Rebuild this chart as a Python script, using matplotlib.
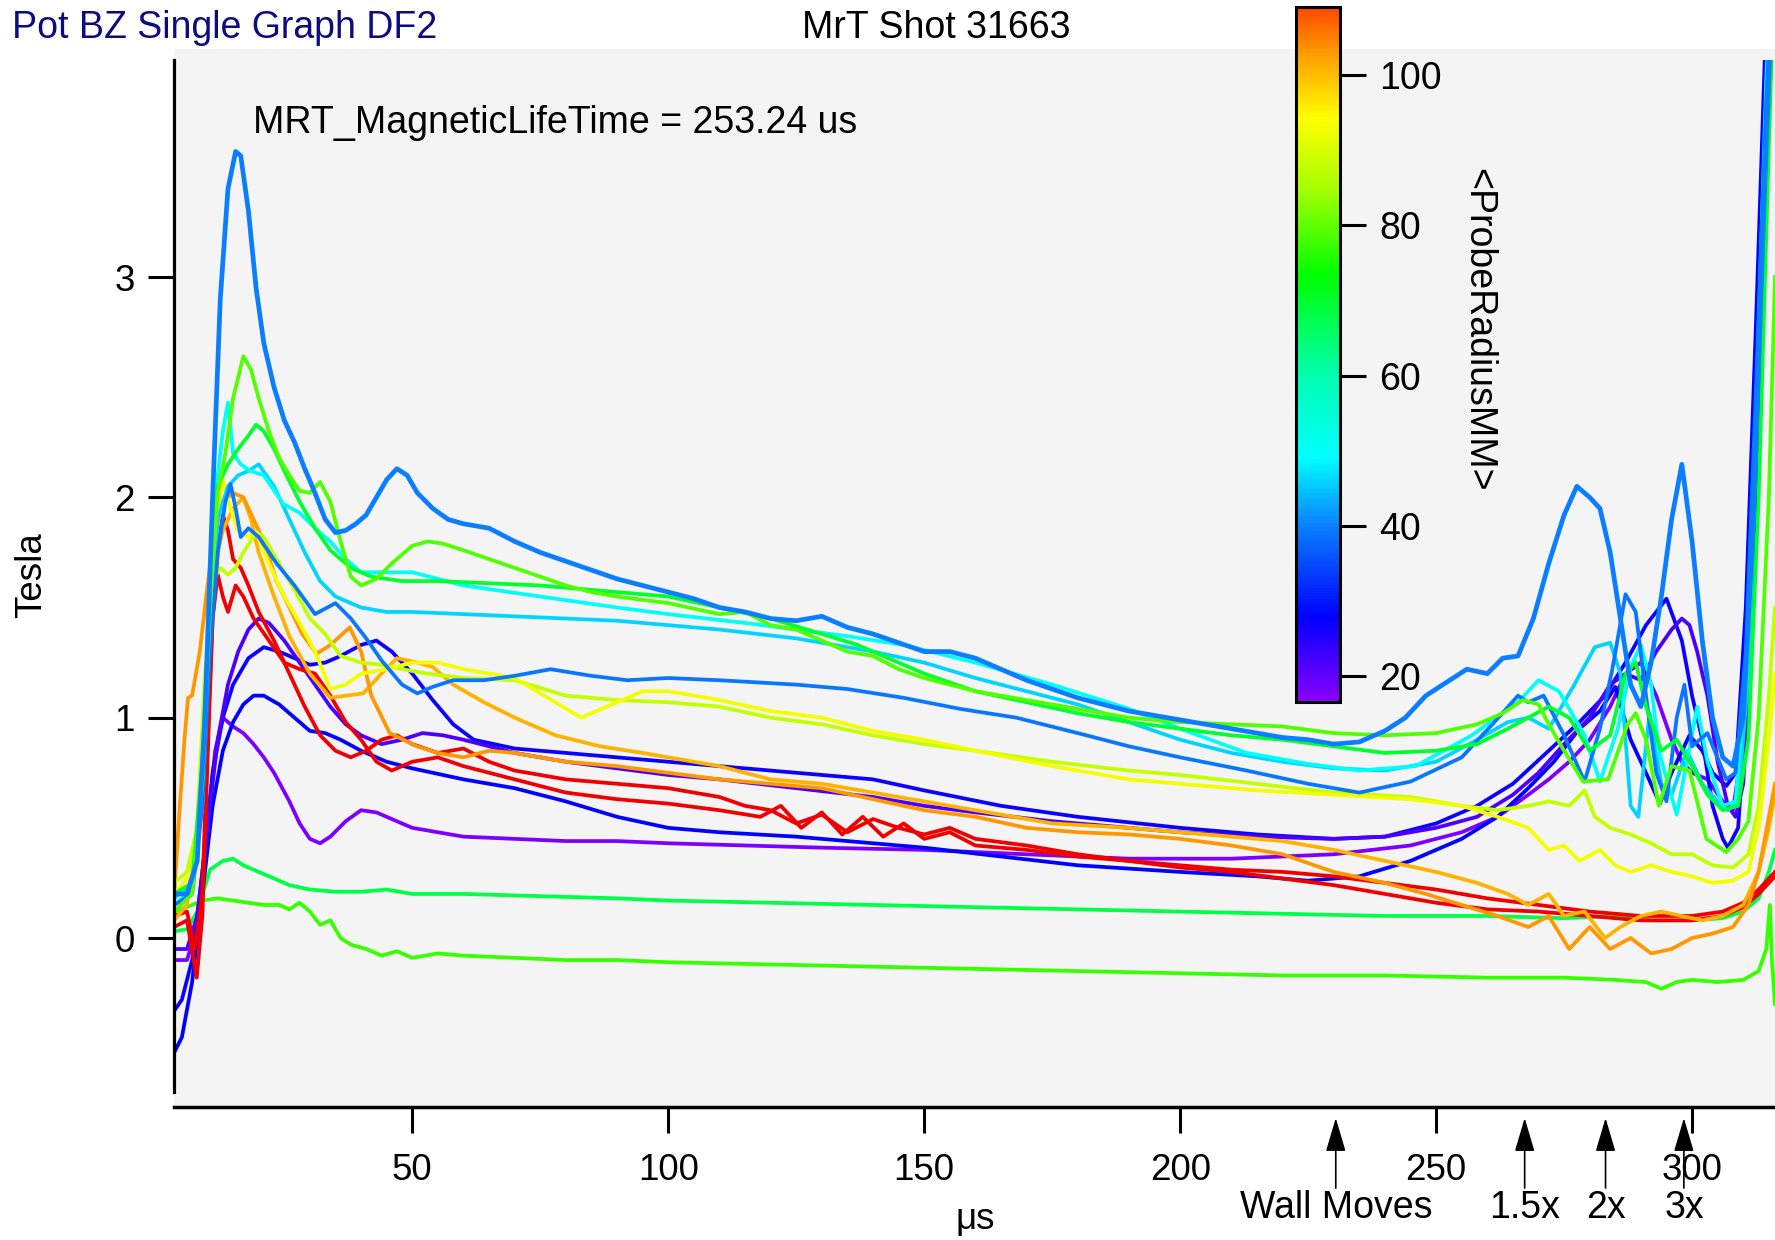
import numpy as np
import matplotlib
matplotlib.use("Agg")
import matplotlib.pyplot as plt
from matplotlib.colors import LinearSegmentedColormap, Normalize
from matplotlib.cm import ScalarMappable
from matplotlib.patches import Rectangle

plt.rcParams['font.family'] = ['Liberation Sans', 'DejaVu Sans']

# --- traces: (time us, field T) ---
blue40 = [(3.5, 0.2), (6, 0.2), (8, 0.35), (9.5, 1.0), (11, 2.0), (12.5, 2.9), (14, 3.4), (15.5, 3.57),
          (16.5, 3.55), (18, 3.3), (19.5, 2.95), (21, 2.7), (23, 2.5), (25, 2.35), (27, 2.25), (29, 2.13),
          (31, 2.02), (33, 1.9), (35, 1.84), (37, 1.85), (39, 1.88), (41, 1.92), (43, 2.0), (45, 2.08),
          (47, 2.13), (49, 2.1), (51, 2.02), (54, 1.95), (57, 1.9), (60, 1.88), (65, 1.86), (70, 1.8),
          (75, 1.75), (80, 1.71), (85, 1.67), (90, 1.63), (95, 1.6), (100, 1.57), (105, 1.54), (110, 1.5),
          (115, 1.48), (120, 1.45), (125, 1.44), (130, 1.46), (135, 1.41), (140, 1.38), (145, 1.34),
          (150, 1.3), (155, 1.3), (160, 1.27), (165, 1.22), (170, 1.17), (175, 1.13), (180, 1.09),
          (185, 1.06), (190, 1.03), (195, 1.01), (200, 0.99), (205, 0.97), (210, 0.95), (215, 0.93),
          (220, 0.91), (225, 0.9), (230, 0.88), (235, 0.89), (240, 0.94), (244, 1.0), (248, 1.1),
          (252, 1.16), (256, 1.22), (260, 1.2), (263, 1.27), (266, 1.28), (269, 1.45), (272, 1.7),
          (275, 1.92), (277.5, 2.05), (280, 2.0), (282, 1.95), (284, 1.75), (286, 1.45), (288, 1.15),
          (290, 1.05), (292, 1.25), (294, 1.55), (296, 1.9), (298, 2.15), (300, 1.8), (302, 1.35),
          (304, 1.0), (306, 0.82), (308, 0.78), (310, 1.0), (312, 1.9), (314, 3.3), (316, 4.5)]

blue38 = [(3.5, 0.15), (7, 0.2), (9, 0.6), (10.5, 1.3), (12, 1.75), (13.5, 1.98), (14.5, 2.06), (15.5, 1.95),
          (16.5, 1.82), (18, 1.86), (20, 1.82), (23.5, 1.7), (27, 1.6), (31, 1.47), (35, 1.52), (38, 1.45),
          (41, 1.36), (44, 1.26), (48, 1.15), (51, 1.11), (54, 1.14), (58, 1.17), (64, 1.17), (70, 1.19),
          (77, 1.22), (85, 1.19), (92, 1.17), (100, 1.18), (110, 1.17), (125, 1.15), (135, 1.13),
          (146, 1.09), (157, 1.04), (168, 1.0), (180, 0.93), (190, 0.87), (200, 0.82), (213, 0.76),
          (225, 0.7), (235, 0.66), (245, 0.71), (255, 0.82), (261, 0.97), (266, 1.1), (268, 1.07),
          (271, 1.1), (275, 0.92), (279, 0.71), (282, 0.95), (284.5, 1.23), (287, 1.56), (289, 1.48),
          (291, 1.1), (293, 0.75), (295, 0.62), (297, 1.0), (298.5, 1.15), (300, 0.87), (303, 0.93),
          (306.7, 0.72), (308.5, 0.75), (310.5, 1.3), (312.5, 2.5), (314.5, 3.8), (316, 4.5)]

green78 = [(3.5, 0.12), (7, 0.2), (9, 0.7), (10.5, 1.5), (12, 2.02), (13.5, 2.2), (15, 2.45), (17, 2.64),
           (18.5, 2.58), (20, 2.45), (22, 2.3), (24, 2.18), (26, 2.1), (28, 2.03), (30, 2.02), (32, 2.07),
           (34, 1.98), (36, 1.8), (38, 1.64), (40, 1.6), (43, 1.63), (46, 1.7), (50, 1.78), (53, 1.8),
           (56, 1.79), (60, 1.76), (65, 1.72), (70, 1.68), (75, 1.64), (80, 1.6), (85, 1.57), (90, 1.55),
           (100, 1.52), (110, 1.47), (115, 1.48), (120, 1.42), (125, 1.4), (130, 1.35), (135, 1.3),
           (140, 1.28), (145, 1.22), (150, 1.18), (155, 1.15), (160, 1.12), (170, 1.08), (180, 1.04),
           (190, 1.0), (200, 0.98), (210, 0.97), (220, 0.96), (230, 0.93), (240, 0.92), (250, 0.93),
           (258, 0.97), (263, 1.02), (267, 1.08), (270, 1.06), (272, 0.97), (275, 0.85), (278.7, 0.71),
           (283.6, 0.72), (287.4, 0.97), (289, 1.02), (291, 0.9), (293.5, 0.6), (296, 0.78), (299.5, 0.76),
           (302.8, 0.45), (306.7, 0.39), (309, 0.45), (311, 0.53), (313, 1.0), (315, 2.0), (316.2, 3.0)]

green70 = [(3.5, 0.2), (7, 0.25), (9, 0.8), (10.5, 1.6), (12, 2.05), (14, 2.15), (16, 2.22), (18, 2.28),
           (19.5, 2.33), (21, 2.3), (23, 2.22), (25, 2.12), (28, 1.98), (31, 1.86), (34, 1.76), (38, 1.68),
           (42, 1.64), (48, 1.62), (55, 1.62), (65, 1.61), (75, 1.6), (85, 1.58), (95, 1.56), (100, 1.55),
           (110, 1.5), (120, 1.45), (130, 1.38), (137, 1.33), (140, 1.3), (150, 1.2), (160, 1.12),
           (170, 1.07), (180, 1.02), (190, 0.98), (200, 0.95), (210, 0.92), (220, 0.9), (230, 0.87),
           (240, 0.84), (250, 0.85), (258, 0.88), (264, 0.95), (268, 1.0), (272, 1.05), (276, 1.0),
           (280, 0.85), (284, 0.92), (287, 1.2), (289, 1.25), (291, 1.05), (294, 0.85), (297, 0.9),
           (300, 0.78), (303, 0.65), (306, 0.58), (309, 0.6), (311, 0.9), (313, 2.0), (315, 3.6), (316.2, 4.5)]

cyan50 = [(3.5, 0.15), (7, 0.22), (9, 0.7), (10.5, 1.6), (12, 2.1), (13, 2.3), (14, 2.43), (15, 2.2),
          (16.5, 2.15), (18.3, 2.12), (21, 2.1), (24.8, 1.97), (28, 1.93), (31, 1.86), (34, 1.8), (37, 1.72),
          (40, 1.66), (45, 1.66), (50, 1.66), (60, 1.6), (75, 1.55), (90, 1.5), (100, 1.47), (115, 1.43),
          (125, 1.4), (135, 1.37), (146, 1.33), (160, 1.25), (175, 1.15), (190, 1.04), (200, 0.95),
          (213, 0.84), (225, 0.79), (235, 0.76), (246, 0.78), (257, 0.92), (266, 1.07), (270, 1.17),
          (274, 1.12), (279, 0.92), (282, 0.71), (285.5, 0.95), (288, 1.23), (290, 1.33), (292, 1.15),
          (293.5, 0.85), (297, 0.56), (299, 0.8), (301, 1.05), (303, 0.8), (306, 0.6), (308.5, 0.62),
          (310.5, 1.2), (312.5, 2.4), (314.5, 3.9), (316, 4.6)]

cyan46 = [(3.5, 0.18), (7, 0.25), (9, 0.6), (10.5, 1.4), (12, 1.9), (14, 2.05), (16, 2.1), (18, 2.12),
          (20, 2.15), (23, 2.05), (26, 1.9), (29, 1.75), (32, 1.62), (35, 1.55), (40, 1.5), (45, 1.48),
          (50, 1.48), (60, 1.47), (70, 1.46), (80, 1.45), (90, 1.44), (100, 1.42), (110, 1.4), (125, 1.36),
          (140, 1.3), (150, 1.25), (160, 1.18), (170, 1.12), (180, 1.06), (190, 0.98), (200, 0.9),
          (210, 0.84), (220, 0.8), (230, 0.77), (240, 0.76), (250, 0.8), (258, 0.9), (264, 0.98),
          (268, 1.0), (272, 0.95), (277, 1.15), (281, 1.32), (284, 1.34), (286, 1.2), (287, 0.9),
          (288, 0.6), (289.5, 0.55), (291.7, 1.02), (294, 0.7), (296, 0.65), (299, 0.85), (302, 0.7),
          (305, 0.62), (307, 0.58), (309, 0.62), (311, 1.2), (313, 2.6), (315, 4.0), (316.2, 4.6)]

yellow93 = [(3.5, 0.2), (7, 0.3), (9, 0.7), (10.5, 1.5), (12, 1.95), (13, 2.08), (14.5, 1.95), (16, 1.85),
            (18, 1.82), (19.6, 1.84), (22, 1.7), (25, 1.55), (28, 1.43), (31, 1.3), (34, 1.13), (37, 1.15),
            (40, 1.2), (45, 1.22), (50, 1.25), (55, 1.25), (60, 1.22), (70, 1.18), (83, 1.0), (88, 1.05),
            (95, 1.12), (100, 1.12), (110, 1.08), (120, 1.03), (130, 1.0), (140, 0.94), (150, 0.9),
            (160, 0.85), (175, 0.78), (190, 0.72), (200, 0.7), (215, 0.67), (230, 0.65), (245, 0.63),
            (255, 0.6), (262, 0.55), (268, 0.5), (272, 0.4), (275, 0.42), (278, 0.35), (282, 0.4),
            (285, 0.33), (288, 0.3), (292, 0.33), (296, 0.3), (300, 0.28), (304, 0.25), (308, 0.26),
            (311, 0.3), (313, 0.5), (315, 0.9), (316.2, 1.2)]

yellow88 = [(3.5, 0.25), (6, 0.3), (8, 0.5), (9.5, 1.2), (11, 1.62), (12.5, 1.68), (14, 1.65), (15.5, 1.68),
            (17, 1.75), (19.5, 1.84), (21, 1.82), (24, 1.7), (27, 1.58), (30, 1.45), (33, 1.38), (36, 1.28),
            (40, 1.25), (44, 1.24), (48, 1.22), (53, 1.2), (60, 1.18), (70, 1.17), (80, 1.1), (90, 1.08),
            (100, 1.07), (110, 1.05), (120, 1.0), (130, 0.97), (140, 0.92), (150, 0.88), (160, 0.85),
            (175, 0.8), (190, 0.76), (200, 0.74), (215, 0.7), (230, 0.66), (245, 0.64), (255, 0.6),
            (262, 0.58), (268, 0.6), (272, 0.62), (276, 0.6), (279, 0.67), (281, 0.55), (284, 0.5),
            (288, 0.47), (292, 0.43), (296, 0.38), (300, 0.38), (304, 0.33), (308, 0.32), (311, 0.38),
            (313, 0.6), (315, 1.1), (316.2, 1.5)]

orange103 = [(3.5, 0.2), (4.6, 0.6), (5.5, 0.9), (6.2, 1.09), (7, 1.1), (8.5, 1.3), (10, 1.6), (11.5, 1.85),
             (13, 1.98), (15, 2.02), (17, 2.0), (19, 1.9), (21, 1.8), (23.5, 1.62), (26, 1.5), (28.5, 1.38),
             (31.3, 1.29), (34, 1.33), (37.8, 1.41), (40, 1.3), (42, 1.1), (45.6, 0.93), (50.9, 0.87),
             (55, 0.84), (60, 0.82), (65, 0.85), (70, 0.84), (75, 0.82), (80, 0.8), (90, 0.78), (100, 0.75),
             (110, 0.72), (120, 0.7), (130, 0.68), (140, 0.63), (150, 0.58), (160, 0.55), (170, 0.5),
             (180, 0.48), (190, 0.47), (200, 0.45), (210, 0.42), (220, 0.38), (230, 0.3), (240, 0.25),
             (248, 0.2), (255, 0.15), (262, 0.1), (268, 0.05), (272, 0.1), (276, -0.05), (280, 0.05),
             (284, -0.05), (288, 0.0), (292, -0.07), (296, -0.05), (300, 0.0), (304, 0.02), (308, 0.05),
             (311, 0.15), (313, 0.3), (315, 0.55), (316.2, 0.7)]

orange101 = [(3.5, 0.08), (6, 0.15), (8, 0.5), (10, 1.3), (11.5, 1.7), (13, 1.85), (15, 1.95), (17, 2.0),
             (18.5, 1.9), (20, 1.75), (23, 1.55), (26, 1.37), (30, 1.2), (34, 1.09), (37, 1.1), (40.4, 1.11),
             (44, 1.2), (47, 1.27), (51, 1.25), (54, 1.23), (58, 1.15), (64, 1.07), (70, 1.0), (78, 0.92),
             (86.7, 0.87), (95, 0.84), (100, 0.82), (110, 0.78), (120, 0.72), (130, 0.7), (140, 0.66),
             (150, 0.62), (160, 0.58), (175, 0.52), (190, 0.5), (200, 0.48), (210, 0.46), (220, 0.44),
             (230, 0.4), (240, 0.35), (250, 0.3), (258, 0.25), (264, 0.2), (268, 0.15), (272, 0.2),
             (275, 0.1), (279, 0.12), (283, 0.0), (286, 0.05), (290, 0.1), (294, 0.12), (298, 0.1),
             (302, 0.08), (306, 0.1), (310, 0.15), (313, 0.3), (315, 0.5), (316.2, 0.65)]

red_a = [(3.5, 0.05), (6, 0.08), (7.9, -0.18), (9, 0.1), (10, 0.8), (11, 1.45), (12, 1.75), (13, 1.92),
         (14, 1.85), (15, 1.72), (16.5, 1.68), (18, 1.6), (20, 1.48), (23, 1.35), (26, 1.2), (29, 1.05),
         (32, 0.92), (35, 0.85), (38, 0.82), (41, 0.85), (44, 0.9), (47, 0.92), (50, 0.88), (55, 0.84),
         (60, 0.86), (65, 0.8), (70, 0.76), (75, 0.74), (80, 0.72), (90, 0.7), (100, 0.68), (110, 0.64),
         (115, 0.6), (120, 0.58), (125, 0.52), (130, 0.56), (135, 0.48), (140, 0.54), (145, 0.5),
         (150, 0.47), (155, 0.5), (160, 0.45), (170, 0.42), (180, 0.38), (190, 0.35), (200, 0.32),
         (210, 0.3), (220, 0.27), (230, 0.24), (240, 0.2), (250, 0.16), (260, 0.13), (270, 0.12),
         (280, 0.1), (290, 0.08), (300, 0.08), (306, 0.1), (310, 0.14), (313, 0.2), (316.2, 0.28)]

red_b = [(3.5, 0.1), (6, 0.12), (7.5, -0.05), (9, 0.2), (10, 0.9), (11, 1.45), (12, 1.65), (13, 1.55),
         (14, 1.48), (15.5, 1.6), (17, 1.55), (19, 1.45), (22, 1.35), (25, 1.25), (28, 1.22), (31, 1.2),
         (34, 1.1), (37, 0.98), (40, 0.9), (43, 0.8), (46, 0.76), (50, 0.8), (55, 0.82), (60, 0.78),
         (70, 0.72), (80, 0.66), (90, 0.63), (100, 0.61), (110, 0.58), (118, 0.55), (122, 0.6), (126, 0.5),
         (130, 0.57), (134, 0.47), (138, 0.55), (142, 0.46), (146, 0.52), (150, 0.45), (155, 0.48),
         (160, 0.42), (170, 0.4), (180, 0.37), (190, 0.35), (200, 0.33), (210, 0.31), (220, 0.3),
         (230, 0.28), (240, 0.25), (250, 0.22), (260, 0.18), (270, 0.15), (280, 0.12), (290, 0.1),
         (300, 0.1), (306, 0.12), (310, 0.16), (313, 0.22), (316.2, 0.3)]

purple22 = [(3.5, -0.05), (6, -0.05), (8, 0.1), (10, 0.5), (12, 0.9), (14, 1.15), (16, 1.3), (18, 1.4),
            (20, 1.45), (22, 1.43), (25, 1.35), (28, 1.25), (31, 1.15), (34, 1.05), (37, 0.97), (40, 0.92),
            (44, 0.88), (48, 0.9), (52, 0.93), (56, 0.92), (60, 0.9), (70, 0.84), (80, 0.8), (90, 0.77),
            (100, 0.74), (110, 0.72), (125, 0.68), (140, 0.64), (150, 0.6), (160, 0.57), (175, 0.53),
            (190, 0.5), (200, 0.48), (215, 0.46), (230, 0.45), (240, 0.46), (250, 0.5), (258, 0.55),
            (265, 0.65), (270, 0.75), (275, 0.88), (280, 1.0), (284, 1.15), (287, 1.2), (290, 1.17),
            (293, 1.3), (296, 1.4), (298, 1.45), (299.5, 1.42), (301, 1.3), (303, 1.1), (305, 0.8),
            (307, 0.6), (308.5, 0.55), (310, 0.7), (312, 1.6), (314, 3.0), (316, 4.5)]

purple18 = [(3.5, -0.1), (6, -0.1), (8, 0.05), (10, 0.5), (11.5, 0.85), (13, 1.0), (15, 0.96), (17, 0.93),
            (19, 0.88), (21, 0.82), (23, 0.75), (26, 0.62), (28, 0.52), (30, 0.45), (32, 0.43), (34, 0.46),
            (37, 0.53), (40, 0.58), (43, 0.57), (46, 0.54), (50, 0.5), (55, 0.48), (60, 0.46), (70, 0.45),
            (80, 0.44), (90, 0.44), (100, 0.43), (115, 0.42), (130, 0.41), (150, 0.4), (170, 0.38),
            (190, 0.36), (210, 0.36), (230, 0.38), (245, 0.42), (255, 0.48), (262, 0.55), (268, 0.65),
            (272, 0.72), (276, 0.8), (280, 0.9), (284, 1.05), (287, 1.2), (290, 1.25), (293, 1.1),
            (296, 0.9), (298, 0.8), (300, 0.75), (303, 0.72), (306, 0.62), (308, 0.58), (310, 0.9),
            (312, 2.0), (314, 3.5), (316, 4.5)]

navy28 = [(3.5, -0.52), (5, -0.45), (7, -0.2), (9, 0.2), (11, 0.6), (13, 0.85), (15, 0.98), (17, 1.06),
          (19, 1.1), (21, 1.1), (24, 1.06), (27, 1.0), (30, 0.94), (33, 0.93), (36, 0.9), (40, 0.85),
          (45, 0.8), (50, 0.77), (60, 0.72), (70, 0.68), (80, 0.62), (90, 0.55), (100, 0.5), (110, 0.48),
          (125, 0.46), (140, 0.43), (150, 0.41), (165, 0.37), (180, 0.33), (200, 0.3), (215, 0.28),
          (225, 0.26), (235, 0.28), (245, 0.35), (255, 0.45), (262, 0.55), (268, 0.68), (273, 0.8),
          (278, 0.95), (282, 1.03), (285, 1.14), (288, 0.9), (291, 0.75), (293.7, 0.61), (296, 0.75),
          (299.5, 0.92), (302, 0.85), (304, 0.75), (306.7, 0.69), (308.5, 0.75), (310.5, 1.5),
          (312.5, 2.8), (314.5, 4.2)]

navy26 = [(3.5, -0.33), (5, -0.28), (7, -0.1), (9, 0.3), (11, 0.75), (13, 1.0), (15, 1.15), (18, 1.27),
          (21, 1.32), (24, 1.3), (27, 1.27), (30, 1.24), (33, 1.25), (36, 1.28), (40, 1.33), (43, 1.35),
          (46, 1.3), (50, 1.2), (54, 1.08), (58, 0.97), (62, 0.9), (70, 0.86), (80, 0.84), (90, 0.82),
          (100, 0.8), (110, 0.78), (125, 0.75), (140, 0.72), (150, 0.67), (165, 0.6), (180, 0.55),
          (200, 0.5), (215, 0.47), (230, 0.45), (240, 0.46), (250, 0.52), (258, 0.6), (265, 0.7),
          (272, 0.85), (278, 0.98), (283, 1.1), (287, 1.25), (291, 1.42), (295, 1.54), (298, 1.35),
          (300, 1.1), (302, 0.9), (304, 0.6), (306, 0.45), (307, 0.41), (309, 0.5), (311, 1.2),
          (313, 2.6), (315, 4.0), (316.2, 4.6)]

green_noisy = [(3.5, 0.03), (6, 0.04), (8, 0.12), (10.5, 0.31), (13, 0.35), (15, 0.36), (17, 0.33), (20, 0.3),
               (23, 0.27), (26, 0.24), (30, 0.22), (35, 0.21), (40, 0.21), (45, 0.22), (50, 0.2), (60, 0.2),
               (75, 0.19), (90, 0.18), (100, 0.17), (120, 0.16), (140, 0.15), (160, 0.14), (180, 0.13),
               (200, 0.12), (220, 0.11), (240, 0.1), (260, 0.1), (275, 0.09), (285, 0.1), (292, 0.08),
               (300, 0.08), (306, 0.09), (310, 0.12), (313, 0.18), (315, 0.3), (316.2, 0.4)]

green_low = [(3.5, 0.12), (6, 0.14), (9, 0.17), (12, 0.18), (15, 0.17), (18, 0.16), (21, 0.15), (24, 0.15),
             (26, 0.13), (28, 0.16), (30, 0.12), (32, 0.06), (34, 0.08), (36, 0.0), (38, -0.03), (41, -0.05),
             (44, -0.08), (47, -0.06), (50, -0.09), (55, -0.07), (60, -0.08), (70, -0.09), (80, -0.1),
             (90, -0.1), (100, -0.11), (120, -0.12), (140, -0.13), (160, -0.14), (180, -0.15), (200, -0.16),
             (220, -0.17), (240, -0.17), (260, -0.18), (275, -0.18), (285, -0.19), (291, -0.2), (294, -0.23),
             (297, -0.2), (300, -0.19), (305, -0.2), (310, -0.19), (313, -0.15), (314.5, -0.05),
             (315.2, 0.15), (315.6, -0.1), (316.2, -0.3)]

trace_names = ["green_low", "green_noisy", "purple18", "navy28", "navy26", "purple22", "red_a", "red_b",
               "orange101", "orange103", "yellow88", "yellow93", "cyan46", "cyan50", "blue38",
               "green70", "green78", "blue40"]
trace_radius = [77, 68, 18, 28, 27, 22, 112, 112, 101, 103, 88, 93, 46, 50, 39, 70, 79, 40]

arrow_times = [230.4, 267.3, 283.1, 298.4]
arrow_labels = ["Wall Moves", "1.5x", "2x", "3x"]

W, H = 1775, 1240
fig = plt.figure(figsize=(W / 100, H / 100), dpi=100)

# colour table like the Igor rainbow used in the plot
vmin, vmax = 16.6, 109.0
stops = [(16.6, '#8a00ff'), (27.7, '#0000ff'), (40, '#0a80ff'), (49, '#00ffff'), (60, '#00ffb0'),
         (73.4, '#00ff00'), (85, '#a8ff00'), (94.3, '#ffff00'), (102.6, '#ffa000'), (109, '#ff4a00')]
cmap = LinearSegmentedColormap.from_list('igor', [((v - vmin) / (vmax - vmin), c) for v, c in stops])
cmap.set_over('#f00000')
norm = Normalize(vmin, vmax)

bg = '#f4f4f4'
fig.patches.append(Rectangle((174 / W, 1 - 60 / H), 1601 / W, 11 / H, transform=fig.transFigure,
                             facecolor=bg, edgecolor='none', zorder=-5))
ax = fig.add_axes([174 / W, 133 / H, 1601 / W, 1047 / H])
ax.set_facecolor(bg)

fs = 27
for name, r in zip(trace_names, trace_radius):
    pts = np.array(globals()[name])
    lw = 3.4 if name == "blue40" else 2.7
    ax.plot(pts[:, 0], pts[:, 1], color=cmap(norm(r)), lw=lw, solid_joinstyle='round')

ax.set_xlim(3.46, 316.2)
ax.set_ylim(-0.767, 3.985)
ax.set_xticks([50, 100, 150, 200, 250, 300])
ax.set_yticks([0, 1, 2, 3])
for s in ['top', 'right']:
    ax.spines[s].set_visible(False)
ax.spines['left'].set_bounds(-0.699, 3.985)
ax.spines['left'].set_linewidth(2.3)
ax.spines['bottom'].set_linewidth(2.5)
ax.tick_params(axis='both', direction='out', length=19, width=2.2, labelsize=fs - 0.5)
ax.tick_params(axis='x', pad=14)
ax.tick_params(axis='y', pad=9)

fig.text(975 / W, 1 - 1220 / H, 'μs', ha='center', va='center', fontsize=fs - 0.5)
fig.text(32 / W, 1 - 575 / H, 'Tesla', ha='center', va='center', rotation=90, fontsize=fs - 0.5)

fig.text(12 / W, 1 - 28 / H, 'Pot BZ Single Graph DF2', ha='left', va='center', fontsize=fs, color='#0c0c80')
fig.text(936 / W, 1 - 28 / H, 'MrT Shot 31663', ha='center', va='center', fontsize=fs)
fig.text(253 / W, 1 - 123 / H, 'MRT_MagneticLifeTime = 253.24 us', ha='left', va='center', fontsize=fs)

# arrows under the time axis
xt = ax.get_xaxis_transform()
for t, lab in zip(arrow_times, arrow_labels):
    ax.annotate('', xy=(t, -0.0105), xytext=(t, -0.0774), xycoords=xt, textcoords=xt,
                arrowprops=dict(arrowstyle='-|>,head_length=2.1,head_width=0.62', mutation_scale=10,
                                lw=1.2, color='black', shrinkA=0, shrinkB=0),
                annotation_clip=False)
    ax.text(t, -0.0965, lab, transform=xt, ha='center', va='center', fontsize=fs)

# colour scale
cax = fig.add_axes([1296 / W, 1 - 702 / H, 44 / W, 695 / H])
cb = fig.colorbar(ScalarMappable(norm=norm, cmap=cmap), cax=cax)
cb.set_ticks([20, 40, 60, 80, 100])
cb.outline.set_linewidth(2.2)
cax.tick_params(direction='out', length=19, width=2.2, labelsize=fs, pad=9)
fig.text(1478 / W, 1 - 330 / H, '<ProbeRadiusMM>', ha='center', va='center', rotation=270, fontsize=fs)

fig.savefig('out.png', dpi=100, facecolor='white')
